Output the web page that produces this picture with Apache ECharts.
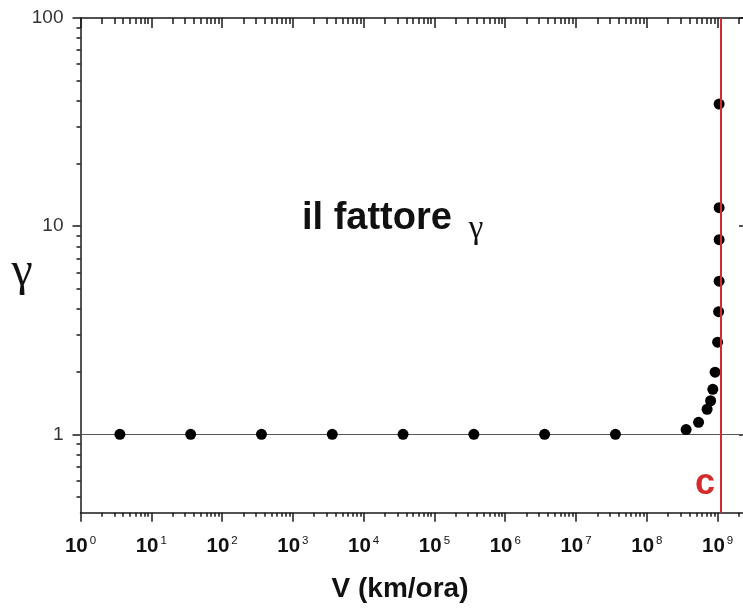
<!DOCTYPE html>
<html><head><meta charset="utf-8">
<script src="https://cdn.jsdelivr.net/npm/echarts@6/dist/echarts.min.js"></script>
<style>html,body{margin:0;padding:0;background:#fff}#c{width:743px;height:608px}</style>
</head><body><div id="c"></div>
<script>
// speed in km/h and Lorentz factor gamma
const velocities = [3.6, 36, 360, 3600, 36000, 360000, 3.6e6, 3.6e7,
  3.59e8, 5.38e8, 7.10e8, 7.96e8, 8.55e8, 9.21e8, 1.0e9, 1.033e9, 1.05e9, 1.05e9, 1.05e9, 1.05e9];
const gammas = [1, 1, 1, 1, 1, 1, 1, 1,
  1.053, 1.142, 1.319, 1.449, 1.645, 1.987, 2.77, 3.88, 5.44, 8.61, 12.27, 38.6];
const speedOfLight = 1.1e9;
const xMajorTicks = [1, 10, 100, 1e3, 1e4, 1e5, 1e6, 1e7, 1e8, 1e9];
const yMajorTicks = [1, 10, 100];
const minorMultipliers = [2, 3, 4, 5, 6, 7, 8, 9];
const xDecades = [1, 10, 100, 1e3, 1e4, 1e5, 1e6, 1e7, 1e8, 1e9];
const yDecades = [0.1, 1, 10];
const xMin = 1, xMax = 2.6e9, yMin = 0.42, yMax = 100;

const xMinorTicks = [];
xDecades.forEach(d => minorMultipliers.forEach(m => xMinorTicks.push(m * d)));
const yMinorTicks = [];
yDecades.forEach(d => minorMultipliers.forEach(m => yMinorTicks.push(+(m * d).toPrecision(3))));

const AX = '#1a1a1a';
function xAxisDef(pos, ticks, len, inside, showLine, showLabel) {
  return {
    type: 'log', logBase: 10, min: xMin, max: xMax, position: pos, gridIndex: 0,
    axisLine: { show: showLine, onZero: false, lineStyle: { color: AX, width: 1.5 } },
    axisTick: { show: true, customValues: ticks, length: len, inside: inside, lineStyle: { color: AX, width: 1.5 } },
    axisLabel: showLabel ? {
      customValues: xMajorTicks, margin: 22,
      formatter: v => '{b|10}{s|' + Math.round(Math.log10(v)) + '}',
      rich: {
        b: { fontSize: 20.5, fontWeight: 'bold', fontFamily: 'Liberation Sans', color: '#111' },
        s: { fontSize: 11.5, fontFamily: 'Liberation Sans', color: '#111', padding: [0, 0, 11, 2] }
      }
    } : { show: false },
    splitLine: { show: false }, minorTick: { show: false }
  };
}
function yAxisDef(pos, ticks, len, inside, showLine, showLabel) {
  return {
    type: 'log', logBase: 10, min: yMin, max: yMax, position: pos, gridIndex: 0,
    axisLine: { show: showLine, onZero: false, lineStyle: { color: AX, width: 1.5 } },
    axisTick: { show: true, customValues: ticks, length: len, inside: inside, lineStyle: { color: AX, width: 1.5 } },
    axisLabel: showLabel ? {
      customValues: yMajorTicks, margin: 17,
      fontSize: 19, fontFamily: 'Liberation Sans', color: '#333',
      formatter: v => String(Math.round(v))
    } : { show: false },
    splitLine: { show: false }, minorTick: { show: false }
  };
}

const chart = echarts.init(document.getElementById('c'));
chart.setOption({
  animation: false,
  backgroundColor: '#fff',
  grid: { left: 80.5, top: 18, right: -4, bottom: 95.3, containLabel: false, outerBoundsMode: 'none' },
  xAxis: [
    xAxisDef('bottom', xMajorTicks, 9, false, true, true),
    xAxisDef('top', xMajorTicks, 10, true, true, false),
    xAxisDef('bottom', xMinorTicks, 4, false, false, false),
    xAxisDef('top', xMinorTicks, 6, true, false, false)
  ],
  yAxis: [
    yAxisDef('left', yMajorTicks, 8, false, true, true),
    yAxisDef('right', yMajorTicks, 8, true, true, false),
    yAxisDef('left', yMinorTicks, 4, false, false, false),
    yAxisDef('right', yMinorTicks, 4, true, false, false)
  ],
  series: [
    {
      type: 'scatter', xAxisIndex: 0, yAxisIndex: 0, data: [], silent: true,
      markLine: {
        z: 1, silent: true, symbol: 'none', label: { show: false },
        lineStyle: { color: '#555', width: 1, type: 'solid' },
        data: [{ yAxis: 1 }]
      }
    },
    {
      type: 'scatter', xAxisIndex: 0, yAxisIndex: 0, z: 3,
      symbol: 'circle', symbolSize: 11,
      itemStyle: { color: '#000', opacity: 1 },
      data: velocities.map((v, i) => [v, gammas[i]]),
      markLine: {
        z: 5, silent: true, symbol: 'none', label: { show: false },
        lineStyle: { color: '#d42c2c', width: 2, type: 'solid' },
        data: [{ xAxis: speedOfLight }]
      }
    }
  ],
  graphic: [
    { type: 'text', x: 302, y: 219, style: { text: 'il fattore', font: 'bold 38px "Liberation Sans", Arial, sans-serif', fill: '#111', align: 'left', verticalAlign: 'middle' } },
    { type: 'text', x: 476, y: 229, style: { text: 'γ', font: '33px "Liberation Serif", "Times New Roman", serif', fill: '#111', align: 'center', verticalAlign: 'middle' } },
    { type: 'text', x: 22, y: 272, style: { text: 'γ', font: '48px "Liberation Serif", "Times New Roman", serif', fill: '#111', align: 'center', verticalAlign: 'middle' } },
    { type: 'text', x: 400, y: 589, style: { text: 'V (km/ora)', font: 'bold 28px "Liberation Sans", Arial, sans-serif', fill: '#111', align: 'center', verticalAlign: 'middle' } },
    { type: 'text', x: 705, y: 484, style: { text: 'c', font: 'bold 36px "Liberation Sans", Arial, sans-serif', fill: '#d42c2c', align: 'center', verticalAlign: 'middle' } }
  ]
});
</script>
</body></html>
